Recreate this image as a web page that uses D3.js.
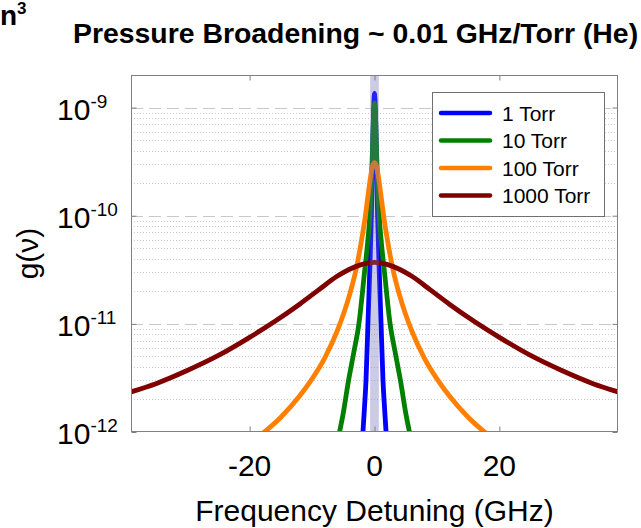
<!DOCTYPE html>
<html>
<head>
<meta charset="utf-8">
<script src="https://cdn.jsdelivr.net/npm/d3@7/dist/d3.min.js"></script>
<style>
  html, body { margin: 0; padding: 0; background: #fff; }
  svg { display: block; }
  text { font-family: "Liberation Sans", Arial, sans-serif; fill: #000; }
</style>
</head>
<body>
<svg id="chart" width="641" height="528"></svg>
<script>
// ---- data ----
const seriesNames = ["1 Torr", "10 Torr", "100 Torr", "1000 Torr"];
const seriesColors = ["#0000ff", "#008000", "#ff8000", "#800000"];

// 1 Torr
const freq1 = [-2.2, -1.85, -1.6, -1.36, -1.05, -0.75, -0.5, -0.35, -0.2, -0.1, 0, 0.1, 0.2, 0.35, 0.5, 0.75, 1.05, 1.36, 1.6, 1.85, 2.2];
const g1 = [6e-13, 1.0e-12, 1.7e-12, 3.0e-12, 1.0e-11, 3.2e-11, 1.0e-10, 2.8e-10, 7e-10, 1.1e-9, 1.35e-9, 1.1e-9, 7e-10, 2.8e-10, 1.0e-10, 3.2e-11, 1.0e-11, 3.0e-12, 1.7e-12, 1.0e-12, 6e-13];

// 10 Torr
const freq10 = [-6.5, -5.6, -5, -4.2, -3.3, -2.5, -1.6, -1, -0.75, -0.5, -0.3, -0.15, 0, 0.15, 0.3, 0.5, 0.75, 1, 1.6, 2.5, 3.3, 4.2, 5, 5.6, 6.5];
const g10 = [6e-13, 1.0e-12, 1.5e-12, 2.9e-12, 5.5e-12, 1.0e-11, 3.0e-11, 6.5e-11, 1.0e-10, 2.0e-10, 4.5e-10, 8.5e-10, 1.1e-9, 8.5e-10, 4.5e-10, 2.0e-10, 1.0e-10, 6.5e-11, 3.0e-11, 1.0e-11, 5.5e-12, 2.9e-12, 1.5e-12, 1.0e-12, 6e-13];

// 100 Torr
const freq100 = [-20, -18, -15, -12, -10, -8, -6, -4, -3, -2, -1.5, -1, -0.6, -0.3, 0, 0.3, 0.6, 1, 1.5, 2, 3, 4, 6, 8, 10, 12, 15, 18, 20];
const g100 = [7.8e-13, 9.6e-13, 1.37e-12, 2.15e-12, 3.1e-12, 4.8e-12, 8.5e-12, 1.85e-11, 3.1e-11, 6.3e-11, 9.6e-11, 1.6e-10, 2.35e-10, 2.9e-10, 3.1e-10, 2.9e-10, 2.35e-10, 1.6e-10, 9.6e-11, 6.3e-11, 3.1e-11, 1.85e-11, 8.5e-12, 4.8e-12, 3.1e-12, 2.15e-12, 1.37e-12, 9.6e-13, 7.8e-13];

// 1000 Torr
const freq1000 = [-39, -35, -30, -25, -20, -16, -12, -9, -6, -4, -2, 0, 2, 4, 6, 9, 12, 16, 20, 25, 30, 35, 39];
const g1000 = [2.35e-12, 2.8e-12, 3.7e-12, 5.1e-12, 7.5e-12, 1.05e-11, 1.52e-11, 2.05e-11, 2.75e-11, 3.2e-11, 3.55e-11, 3.7e-11, 3.55e-11, 3.2e-11, 2.75e-11, 2.05e-11, 1.52e-11, 1.05e-11, 7.5e-12, 5.1e-12, 3.7e-12, 2.8e-12, 2.35e-12];

const xTicks = [-20, 0, 20];
const yTicks = [1e-12, 1e-11, 1e-10, 1e-9];
const yTickExp = ["-12", "-11", "-10", "-9"];
const xDomain = [-39, 39];
const yDomain = [1e-12, 2e-9];
const bandHalfWidth = 0.7;

const titleText = "Pressure Broadening ~ 0.01 GHz/Torr (He)";
const xLabel = "Frequency Detuning (GHz)";
const yLabel = "g(\u03bd)";

// ---- layout ----
const L = 131, R = 618, T = 75, B = 432;
const svg = d3.select("#chart");

const x = d3.scaleLinear().domain(xDomain).range([L, R]);
const y = d3.scaleLog().domain(yDomain).range([B, T]);

svg.append("defs").append("clipPath").attr("id", "clip")
  .append("rect").attr("x", L).attr("y", T).attr("width", R - L).attr("height", B - T);

// minor grid (dotted)
const minor = [];
for (let e = -12; e <= -9; e++) {
  for (let m = 2; m <= 9; m++) {
    const v = m * Math.pow(10, e);
    if (v < yDomain[1]) minor.push(v);
  }
}
svg.append("g").selectAll("line").data(minor).join("line")
  .attr("x1", L).attr("x2", R)
  .attr("y1", d => Math.round(y(d)) + 0.5).attr("y2", d => Math.round(y(d)) + 0.5)
  .attr("stroke", "#cccccc").attr("stroke-width", 1).attr("stroke-dasharray", "1,2");

// major grid (dashed)
svg.append("g").selectAll("line").data(yTicks.slice(1)).join("line")
  .attr("x1", L).attr("x2", R)
  .attr("y1", d => Math.round(y(d)) + 0.5).attr("y2", d => Math.round(y(d)) + 0.5)
  .attr("stroke", "#c8c8c8").attr("stroke-width", 1).attr("stroke-dasharray", "12,6");

// curves
const series = [
  { name: seriesNames[0], color: seriesColors[0], f: freq1, g: g1 },
  { name: seriesNames[1], color: seriesColors[1], f: freq10, g: g10 },
  { name: seriesNames[2], color: seriesColors[2], f: freq100, g: g100 },
  { name: seriesNames[3], color: seriesColors[3], f: freq1000, g: g1000 }
];
const line = d3.line().x(d => x(d[0])).y(d => y(d[1])).curve(d3.curveMonotoneX);
const plot = svg.append("g").attr("clip-path", "url(#clip)");
series.forEach(s => {
  plot.append("path")
    .datum(s.f.map((f, i) => [f, s.g[i]]))
    .attr("d", line)
    .attr("fill", "none")
    .attr("stroke", s.color)
    .attr("stroke-width", 4.8)
    .attr("stroke-linejoin", "round")
    .attr("stroke-linecap", "round");
});

// shaded band at zero detuning
plot.append("rect")
  .attr("x", x(-bandHalfWidth)).attr("width", x(bandHalfWidth) - x(-bandHalfWidth))
  .attr("y", T).attr("height", B - T)
  .attr("fill", "#6a6ab4").attr("fill-opacity", 0.35);

// axes box
const axisColor = "#808080";
svg.append("rect").attr("x", L + 0.5).attr("y", T + 0.5).attr("width", R - L - 1).attr("height", B - T - 1)
  .attr("fill", "none").attr("stroke", axisColor).attr("stroke-width", 1);

// x ticks (inward, bottom and top)
const xAxisB = d3.axisBottom(x).tickValues(xTicks).tickSizeInner(-5).tickSizeOuter(0).tickFormat("");
const gxb = svg.append("g").attr("transform", `translate(0,${B - 0.5})`).call(xAxisB);
gxb.select(".domain").remove();
gxb.selectAll("line").attr("stroke", axisColor);
const xAxisT = d3.axisTop(x).tickValues(xTicks).tickSizeInner(-5).tickSizeOuter(0).tickFormat("");
const gxt = svg.append("g").attr("transform", `translate(0,${T + 0.5})`).call(xAxisT);
gxt.select(".domain").remove();
gxt.selectAll("line").attr("stroke", axisColor);

// y ticks (inward, left and right)
const yAxisL = d3.axisLeft(y).tickValues(yTicks).tickSizeInner(-5).tickSizeOuter(0).tickFormat("");
const gyl = svg.append("g").attr("transform", `translate(${L + 0.5},0)`).call(yAxisL);
gyl.select(".domain").remove();
gyl.selectAll("line").attr("stroke", axisColor);
const yAxisR = d3.axisRight(y).tickValues(yTicks).tickSizeInner(-5).tickSizeOuter(0).tickFormat("");
const gyr = svg.append("g").attr("transform", `translate(${R - 0.5},0)`).call(yAxisR);
gyr.select(".domain").remove();
gyr.selectAll("line").attr("stroke", axisColor);

// x tick labels
svg.append("g").selectAll("text").data(xTicks).join("text")
  .attr("x", d => x(d)).attr("y", 476)
  .attr("text-anchor", "middle").attr("font-size", 30)
  .text(d => d3.format("d")(d).replace("\u2212", "-"));

// y tick labels: 10 with superscript exponent
const yl = svg.append("g").selectAll("text").data(yTicks).join("text")
  .attr("x", 57).attr("y", d => y(d) + 12)
  .attr("font-size", 30);
yl.append("tspan").text("10");
yl.append("tspan").attr("font-size", 19).attr("dy", -12).text((d, i) => yTickExp[i]);

// axis titles
svg.append("text").attr("x", (L + R) / 2).attr("y", 521)
  .attr("text-anchor", "middle").attr("font-size", 30).text(xLabel);
svg.append("text").attr("transform", `translate(38,${(T + B) / 2}) rotate(-90)`)
  .attr("text-anchor", "middle").attr("font-size", 30).text(yLabel);

// title
svg.append("text").attr("x", 73).attr("y", 43)
  .attr("font-size", 28.4).attr("font-weight", "bold").text(titleText);
// fragment at top-left
const frag = svg.append("text").attr("x", 0).attr("y", 25)
  .attr("font-size", 28).attr("font-weight", "bold");
frag.append("tspan").text("n");
frag.append("tspan").attr("font-size", 17).attr("dy", -11).text("3");

// legend
const lg = svg.append("g");
lg.append("rect").attr("x", 432.5).attr("y", 92.5).attr("width", 172).attr("height", 124)
  .attr("fill", "#fff").attr("stroke", "#707070").attr("stroke-width", 1);
const rowY = [113, 140.5, 168, 195.5];
series.forEach((s, i) => {
  lg.append("line").attr("x1", 441).attr("x2", 490).attr("y1", rowY[i]).attr("y2", rowY[i])
    .attr("stroke", s.color).attr("stroke-width", 4.5).attr("stroke-linecap", "round");
  lg.append("text").attr("x", 502).attr("y", rowY[i] + 7.5).attr("font-size", 21).text(s.name);
});
</script>
</body>
</html>
